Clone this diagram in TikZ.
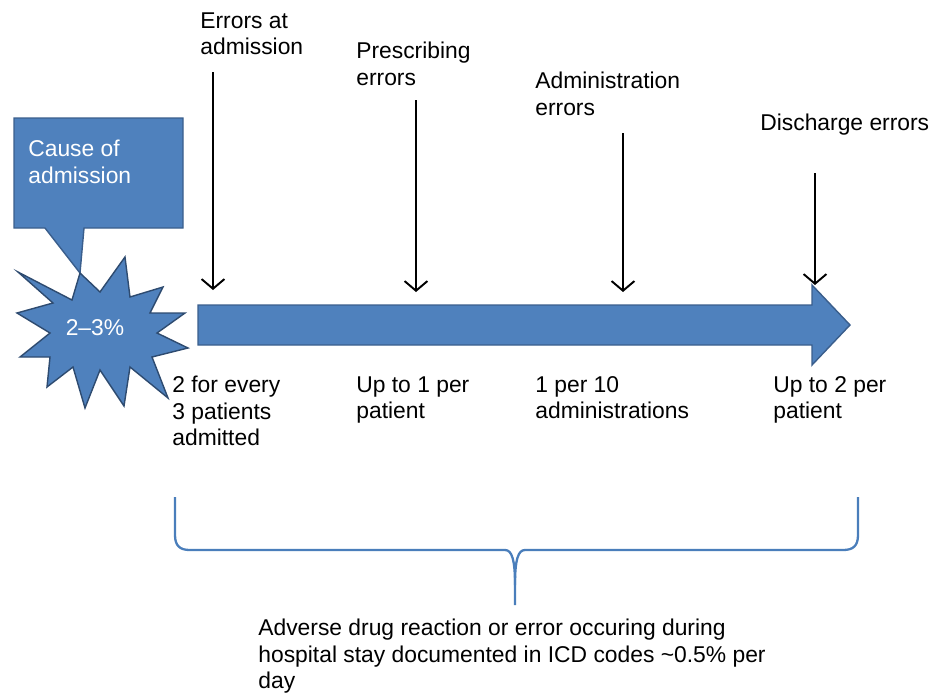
\documentclass[tikz,border=0pt]{standalone}
\usepackage{fontspec}
\setmainfont{Liberation Sans}
\usepackage{tikz}
\usetikzlibrary{arrows.meta}
\definecolor{blu}{HTML}{4F81BD}
\definecolor{bordo}{HTML}{3A5E8C}
\definecolor{graffa}{HTML}{4A7EBB}
\tikzset{
  testo/.style={font=\fontsize{13pt}{15pt}\selectfont, align=left, inner sep=0pt, anchor=north west},
  bianco/.style={testo, text=white},
  freccia/.style={line width=1.1pt, -{Straight Barb[length=5.5pt,width=13pt,line width=1.1pt]}},
  forma/.style={draw=bordo, fill=blu, line width=0.8pt},
}
\begin{document}
\begin{tikzpicture}[x=0.2mm, y=-0.2mm]
    \useasboundingbox (0,0) rectangle (932,692);

    % Fumetto (causa del ricovero)
    \draw[forma] (14,118) -- (183,118) -- (183,228) -- (84,228)
    -- (80,273) -- (45,228) -- (14,228) -- cycle;
    \node[bianco] (causa) at (28,140) {Cause of\\admission};

    % Esplosione 2-3%
    \draw[forma, draw=bordo!80!black] (17,313) -- (53,303) -- (18,272) -- (72,300)
    -- (80,273) -- (100,292) -- (125,257) -- (130,297) -- (163,287)
    -- (150,313) -- (185,313) -- (157,333) -- (188,348) -- (152,357)
    -- (168,398) -- (130,367) -- (124,406) -- (100,370) -- (85,408)
    -- (73,367) -- (47,387) -- (50,357) -- (20,357) -- (50,333) -- cycle;
    \node[font=\fontsize{13pt}{15pt}\selectfont, text=white, inner sep=0pt] (perc) at (95,328) {2--3\%};

    % Freccia del ricovero
    \draw[forma] (198,305) -- (812,305) -- (812,285) -- (850,325)
    -- (812,365) -- (812,345) -- (198,345) -- cycle;

    % Etichette in alto
    \node[testo] (ammissione) at (200,12) {Errors at\\admission};
    \node[testo] (prescrizione) at (356,42) {Prescribing\\errors};
    \node[testo] (somministrazione) at (535,72) {Administration\\errors};
    \node[testo] (dimissione) at (760,114) {Discharge errors};

    % Frecce verticali
    \coordinate (a1) at (213,72);  \coordinate (b1) at (213,290);
    \coordinate (a2) at (416,100); \coordinate (b2) at (416,292);
    \coordinate (a3) at (623,133); \coordinate (b3) at (623,292);
    \coordinate (a4) at (815,173); \coordinate (b4) at (815,285);
    \draw[freccia] (a1) -- (b1);
    \draw[freccia] (a2) -- (b2);
    \draw[freccia] (a3) -- (b3);
    \draw[freccia] (a4) -- (b4);

    % Frequenze
    \node[testo] (freq1) at (172,376) {2 for every\\3 patients\\admitted};
    \node[testo] (freq2) at (356,376) {Up to 1 per\\patient};
    \node[testo] (freq3) at (535,376) {1 per 10\\administrations};
    \node[testo] (freq4) at (773,376) {Up to 2 per\\patient};

    % Graffa
    \draw[graffa, line width=1.3pt] (175,497) -- (175,535)
    .. controls (175,546) and (180,550) .. (190,550) -- (505,550)
    .. controls (512,550) and (515,560) .. (515,585) -- (515,605);
    \draw[graffa, line width=1.3pt] (858,497) -- (858,535)
    .. controls (858,546) and (853,550) .. (843,550) -- (525,550)
    .. controls (518,550) and (515,560) .. (515,585);
    \node[testo] (ricovero) at (258,619) {Adverse drug reaction or error occuring during\\hospital stay documented in ICD codes \textasciitilde0.5\% per\\day};
\end{tikzpicture}
\end{document}
